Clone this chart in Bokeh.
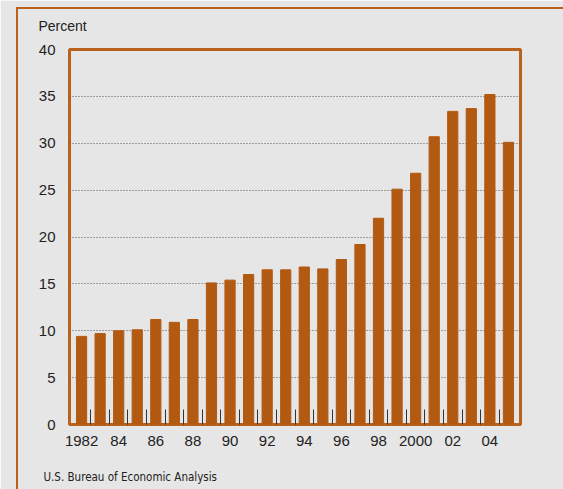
from bokeh.plotting import figure
from bokeh.models import Range1d, FixedTicker, Title, InlineStyleSheet
from bokeh.embed import file_html
from bokeh.resources import INLINE

years = list(range(1982, 2006))
values = [9.4, 9.7, 10.0, 10.1, 11.2, 10.9, 11.2, 15.1, 15.4, 16.0, 16.5, 16.5,
          16.8, 16.6, 17.6, 19.2, 22.0, 25.1, 26.8, 30.7, 33.4, 33.7, 35.2, 30.1]
label_years = [1982, 1984, 1986, 1988, 1990, 1992, 1994, 1996, 1998, 2000, 2002, 2004]
label_texts = ["1982", "84", "86", "88", "90", "92", "94", "96", "98", "2000", "02", "04"]
y_ticks = [0, 5, 10, 15, 20, 25, 30, 35, 40]

BG = "#e6e6e6"
BAR = "#b35a12"
EDGE = "#b8621e"

p = figure(width=563, height=496, output_backend="svg", toolbar_location=None,
           x_range=Range1d(1981.35, 2005.65), y_range=Range1d(0, 40),
           min_border_left=69, min_border_right=43, min_border_top=48, min_border_bottom=72)
p.background_fill_color = BG
p.border_fill_color = BG
p.outline_line_color = EDGE
p.outline_line_width = 3

p.vbar(x=years, top=values, width=0.55, color=BAR)

minor = [y + 0.5 for y in years[:-1]]
xa = p.xaxis[0]
xa.ticker = FixedTicker(ticks=label_years, minor_ticks=minor)
xa.major_label_overrides = {y: t for y, t in zip(label_years, label_texts)}
xa.axis_line_color = None
xa.major_tick_line_color = None
xa.minor_tick_in = 15
xa.minor_tick_out = 0
xa.minor_tick_line_color = "#333333"
xa.minor_tick_line_width = 1
xa.major_label_standoff = 5
xa.major_label_text_font = "Liberation Sans"
xa.major_label_text_font_size = "15px"
xa.major_label_text_color = "#222222"
xa.axis_label = " "
xa.axis_label_text_font_size = "1px"
xa.axis_label_standoff = 10

ya = p.yaxis[0]
ya.ticker = FixedTicker(ticks=y_ticks)
ya.axis_line_color = None
ya.major_tick_line_color = None
ya.minor_tick_line_color = None
ya.major_label_standoff = 8
ya.major_label_text_font = "Liberation Sans"
ya.major_label_text_font_size = "15px"
ya.major_label_text_color = "#222222"

p.xgrid.grid_line_color = None
p.ygrid.grid_line_color = "#555555"
p.ygrid.grid_line_dash = "1 2"
p.ygrid.grid_line_width = 1

p.add_layout(Title(text="Percent", align="left", offset=-31, standoff=31,
                   text_font="Liberation Sans", text_font_size="14px",
                   text_font_style="normal", text_color="#222222"), "above")
p.add_layout(Title(text="U.S. Bureau of Economic Analysis", align="left", offset=-26,
                   standoff=10, text_font="DejaVu Sans Condensed, Liberation Sans",
                   text_font_size="11.5px",
                   text_font_style="normal", text_color="#222222"), "below")

p.stylesheets = [InlineStyleSheet(css="""
:host { position: relative; }
:host::after {
  content: ""; position: absolute; left: 16px; top: 7px;
  width: 700px; height: 700px; border: 2.5px solid #b8621e;
  pointer-events: none; box-sizing: border-box;
}
""")]

open("out.html", "w").write(file_html(p, INLINE))
